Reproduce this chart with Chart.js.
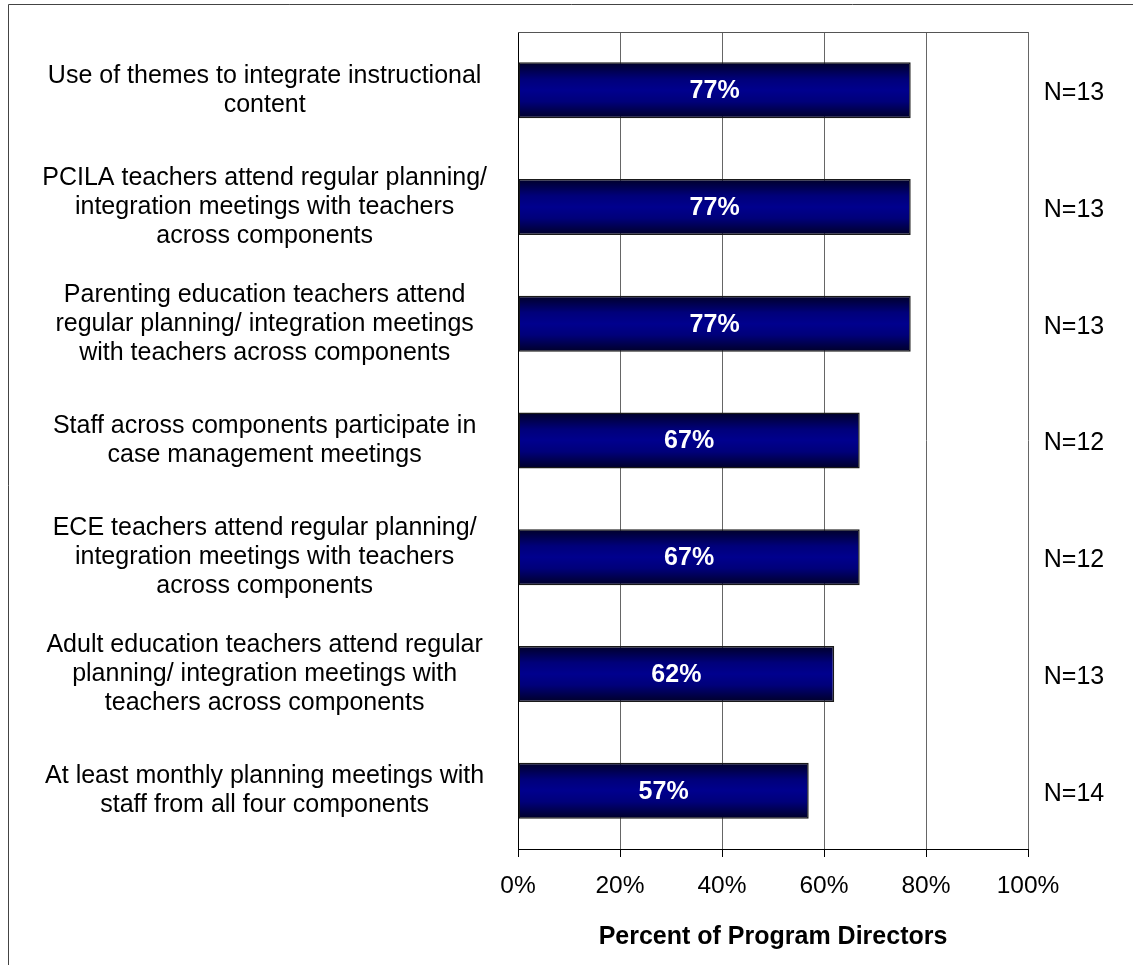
<!DOCTYPE html>
<html>
<head>
<meta charset="utf-8">
<title>Program integration practices</title>
<script src="https://cdn.jsdelivr.net/npm/chart.js@4/dist/chart.umd.min.js"></script>
<style>
  html, body { margin: 0; padding: 0; background: #fff; }
  canvas { display: block; }
</style>
</head>
<body>
<canvas id="integrationChart" width="1133" height="965"></canvas>
<script>
const practices = [
  ["Use of themes to integrate instructional", "content"],
  ["PCILA teachers attend regular planning/", "integration meetings with teachers", "across components"],
  ["Parenting education teachers attend", "regular planning/ integration meetings", "with teachers across components"],
  ["Staff across components participate in", "case management meetings"],
  ["ECE teachers attend regular planning/", "integration meetings with teachers", "across components"],
  ["Adult education teachers attend regular", "planning/ integration meetings with", "teachers across components"],
  ["At least monthly planning meetings with", "staff from all four components"]
];
const percentDirectors = [77, 77, 77, 67, 67, 62, 57];
const sampleSizes = ["N=13", "N=13", "N=13", "N=12", "N=12", "N=13", "N=14"];
const xTicks = [0, 20, 40, 60, 80, 100];

const FONT = "'Liberation Sans', Arial, Helvetica, sans-serif";
const BAR_PCT = 0.48;

Chart.defaults.font.family = FONT;
Chart.defaults.color = "#000";

// navy bar shaded darker at the top and bottom edges
function barGradient(ctx) {
  const chart = ctx.chart;
  const area = chart.chartArea;
  if (!area || ctx.type !== "data") return "#000080";
  const y = chart.scales.y.getPixelForValue(ctx.dataIndex);
  const half = (area.height / practices.length) * BAR_PCT / 2;
  const g = chart.ctx.createLinearGradient(0, y - half, 0, y + half);
  g.addColorStop(0, "#000028");
  g.addColorStop(0.3, "#00007a");
  g.addColorStop(0.5, "#00008e");
  g.addColorStop(0.7, "#00007a");
  g.addColorStop(1, "#000028");
  return g;
}

// outer frame + top edge of the plot area
const framePlugin = {
  id: "frame",
  beforeDraw(chart) {
    const c = chart.ctx;
    c.save();
    c.strokeStyle = "#444";
    c.lineWidth = 1;
    c.beginPath();
    c.moveTo(8.5, chart.height + 2);
    c.lineTo(8.5, 4.5);
    c.lineTo(chart.width + 2, 4.5);
    c.stroke();
    c.restore();
  },
  afterDraw(chart) {
    const a = chart.chartArea;
    const c = chart.ctx;
    c.save();
    c.strokeStyle = "#555";
    c.lineWidth = 1;
    c.beginPath();
    c.moveTo(a.left, Math.round(a.top) + 0.5);
    c.lineTo(a.right, Math.round(a.top) + 0.5);
    c.stroke();
    c.restore();
  }
};

// white percentages inside the bars, N counts to the right of the plot
const labelPlugin = {
  id: "barLabels",
  afterDatasetsDraw(chart) {
    const c = chart.ctx;
    const meta = chart.getDatasetMeta(0);
    c.save();
    c.textAlign = "center";
    c.textBaseline = "middle";
    c.font = "bold 25px " + FONT;
    c.fillStyle = "#fff";
    meta.data.forEach((bar, i) => {
      const p = bar.getCenterPoint();
      c.fillText(percentDirectors[i] + "%", p.x, p.y + 1);
    });
    c.font = "25px " + FONT;
    c.fillStyle = "#000";
    sampleSizes.forEach((n, i) => {
      const y = chart.scales.y.getPixelForValue(i);
      c.fillText(n, chart.chartArea.right + 46, y + 3);
    });
    c.restore();
  }
};

new Chart(document.getElementById("integrationChart"), {
  type: "bar",
  data: {
    labels: practices,
    datasets: [{
      data: percentDirectors,
      backgroundColor: barGradient,
      borderColor: "#1a1a1a",
      borderWidth: 1.5,
      borderSkipped: false,
      barPercentage: BAR_PCT,
      categoryPercentage: 1
    }]
  },
  options: {
    indexAxis: "y",
    responsive: false,
    animation: false,
    events: [],
    layout: { padding: { top: 32, right: 105, bottom: 0, left: 0 } },
    plugins: {
      legend: { display: false },
      tooltip: { enabled: false }
    },
    scales: {
      x: {
        min: 0,
        max: 100,
        afterFit(scale) { scale.height = 116; },
        afterBuildTicks(scale) { scale.ticks = xTicks.map(v => ({ value: v })); },
        grid: { color: "#666", tickColor: "#000", tickLength: 8, lineWidth: 1 },
        border: { display: true, color: "#000", width: 1 },
        ticks: {
          padding: 15,
          font: { size: 24.5 },
          callback: v => v + "%"
        },
        title: {
          display: true,
          text: "Percent of Program Directors",
          font: { size: 25, weight: "bold" },
          padding: { top: 0, bottom: 13 }
        }
      },
      y: {
        afterFit(scale) {
          scale.width = 518;
          scale.paddingTop = 0;
          scale.paddingBottom = 0;
        },
        grid: { display: false, drawTicks: false },
        border: { display: true, color: "#000", width: 1 },
        ticks: {
          crossAlign: "center",
          padding: 31,
          autoSkip: false,
          font: { size: 25, lineHeight: 1.16 }
        }
      }
    }
  },
  plugins: [framePlugin, labelPlugin]
});
</script>
</body>
</html>
